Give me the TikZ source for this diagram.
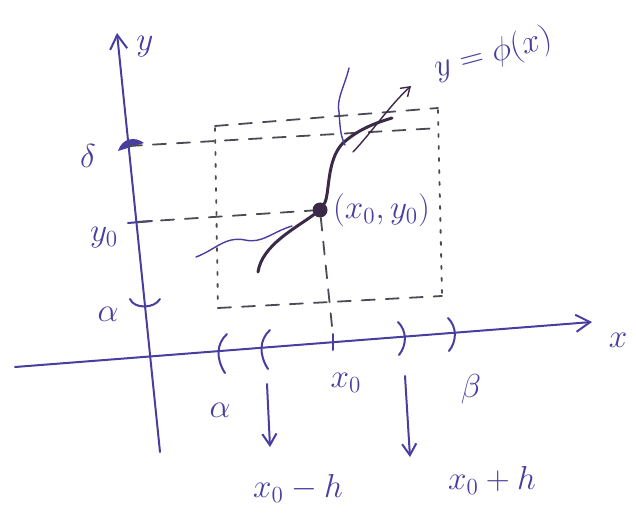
\documentclass[tikz,border=0pt]{standalone}
\usepackage{amsmath, amssymb}
\usetikzlibrary{arrows.meta, positioning}
\definecolor{penblue}{RGB}{72,62,160}
\definecolor{inkdark}{RGB}{58,42,72}
\definecolor{dashgray}{RGB}{75,75,85}
\newcommand{\handlbl}[1]{\scalebox{1.6}{#1}}

\begin{document}
\begin{tikzpicture}[x=1pt, y=-1pt, line cap=round,
  every node/.style={font=\huge, text=penblue},
  pen/.style={line width=2pt, penblue},
  axis/.style={pen, -{Straight Barb[length=5mm, width=6mm]}},
  dropline/.style={pen, -{Straight Barb[length=4mm, width=5mm]}},
  dashline/.style={line width=1.8pt, dashgray, dash pattern=on 13pt off 11pt},
  dotline/.style={line width=1.8pt, dashgray, dash pattern=on 3pt off 9pt}]
\useasboundingbox (0,0) rectangle (636,518);

% Axes
\coordinate (ybot) at (160,452);
\coordinate (ytop) at (117,33);
\draw[axis] (ybot) -- (ytop);
\node (ylab) at (145,47) {\handlbl{$y$}};
\coordinate (xleft) at (15,367);
\coordinate (xright) at (592,322);
\draw[axis] (xleft) -- (xright);
\node (xlab) at (618,340) {\handlbl{$x$}};

% Marks on the y axis
\coordinate (dtick) at (129,146);
\coordinate (y0tick) at (137,222);
\coordinate (atick) at (145,305);
\fill[penblue] (118,151) .. controls (122,138) and (135,136) .. (144,143) -- cycle;
\draw[pen] (128,223) -- (152,221);
\draw[pen] (130,299) .. controls (134,309) and (154,309) .. (160,299);
\node (dlab) at (88,156) {\handlbl{$\delta$}};
\node (y0lab) at (104,238) {\handlbl{$y_0$}};
\node (alab) at (108,314) {\handlbl{$\alpha$}};

% Marks on the x axis
\foreach \px/\py in {222/351, 265/347}
  \draw[pen] (\px+5,\py-17) .. controls (\px-6,\py-7) and (\px-6,\py+8) .. (\px+3,\py+22);
\foreach \px/\py in {402/337, 452/333}
  \draw[pen] (\px-4,\py-15) .. controls (\px+5,\py-6) and (\px+5,\py+8) .. (\px-3,\py+18);
\draw[pen] (333,334) -- (333,350);
\node (albot) at (220,410) {\handlbl{$\alpha$}};
\node (x0lab) at (346,383) {\handlbl{$x_0$}};
\node (betalab) at (471,389) {\handlbl{$\beta$}};

% Ends of the neighbourhood
\coordinate (lstart) at (267,384);
\coordinate (lend) at (270,447);
\coordinate (rstart) at (405,376);
\coordinate (rend) at (410,457);
\node (xmh) at (298,488) {\handlbl{$x_0 - h$}};
\node (xph) at (492,480) {\handlbl{$x_0 + h$}};
\draw[dropline] (lstart) -- (lend);
\draw[dropline] (rstart) -- (rend);

% Rectangle R
\draw[dotline] (215,128) -- (218,308);
\draw[dotline] (438,110) -- (442,296);
\draw[dashline] (218,308) -- (442,296);
\draw[dashline] (215,126) -- (438,108);
\draw[dashline] (dtick) -- (440,128);

% Point (x0, y0)
\node[circle, fill=inkdark, inner sep=0pt, minimum size=15pt] (P) at (320,210) {};
\node[right=2pt of P] (Plab) {\handlbl{$(x_0, y_0)$}};
\draw[dashline] (y0tick) -- (P);
\draw[dashline] (P) -- (333,336);

% Solution curve y = phi(x)
\draw[inkdark, line width=3pt] (258,272) .. controls (262,245) and (296,228) .. (P)
  .. controls (330,195) and (326,160) .. (343,143)
  .. controls (358,130) and (372,124) .. (392,118);
\draw[pen, line width=1.4pt] (196,257) .. controls (215,250) and (225,236) .. (245,240)
  .. controls (262,244) and (272,232) .. (292,226);
\draw[pen, line width=1.4pt] (349,68) .. controls (345,85) and (336,100) .. (339,112)
  .. controls (340,125) and (340,135) .. (345,145);
\node[rotate=15] (philab) at (493,54) {\handlbl{$y = \phi(x)$}};
\coordinate (phitip) at (411,86);
\draw[inkdark, line width=1.4pt, -{Straight Barb[length=3mm, width=4mm]}] (353,152)
  .. controls (372,132) and (390,105) .. (phitip);

\end{tikzpicture}
\end{document}
